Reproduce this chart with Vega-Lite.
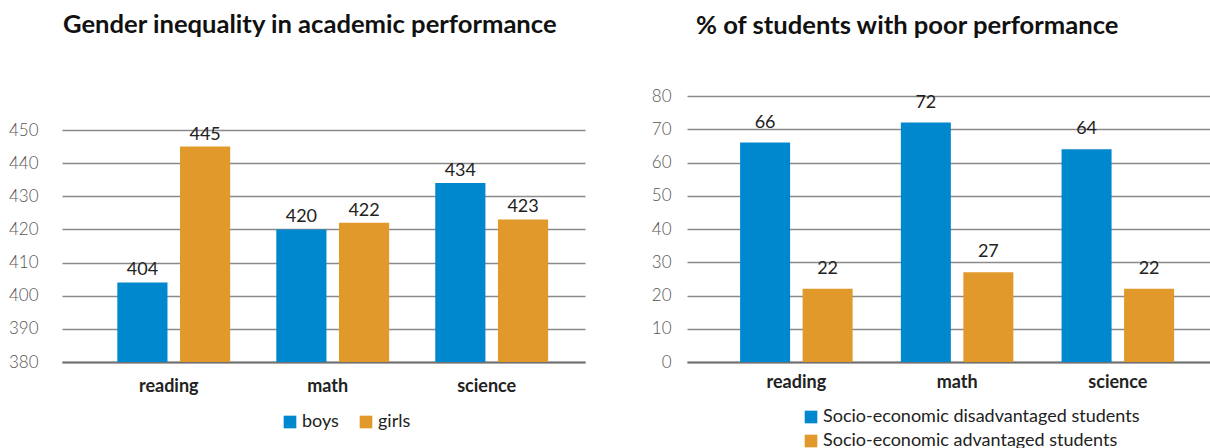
{
  "$schema": "https://vega.github.io/schema/vega-lite/v6.json",
  "padding": {"left": 8, "top": 13, "right": 0, "bottom": 0},
  "spacing": 66,
  "background": "white",
  "config": {
    "view": {"stroke": null},
    "font": "Lato",
    "title": {"font": "Lato", "fontSize": 25.6, "fontWeight": "bold", "color": "#111111", "anchor": "start", "baseline": "alphabetic", "frame": "group"},
    "axisY": {"domain": false, "ticks": false, "title": null, "labelFont": "Lato", "labelFontSize": 17, "labelFontWeight": 300, "labelColor": "#555555", "gridColor": "#8a8a8a", "gridWidth": 1.3},
    "axisX": {"ticks": false, "title": null, "labelAngle": 0, "labelFont": "Lato", "labelFontSize": 18, "labelFontWeight": "bold", "labelColor": "#222222", "domainColor": "#707070", "domainWidth": 2, "labelBaseline": "top"},
    "legend": {"labelFont": "Lato", "labelFontSize": 18, "labelColor": "#222222", "labelLimit": 500, "symbolType": "square", "symbolSize": 160, "symbolStrokeWidth": 0, "title": null, "labelOffset": 3}
  },
  "datasets": {
    "gender": [
      {"subject": "reading", "gender": "boys", "score": 404},
      {"subject": "reading", "gender": "girls", "score": 445},
      {"subject": "math", "gender": "boys", "score": 420},
      {"subject": "math", "gender": "girls", "score": 422},
      {"subject": "science", "gender": "boys", "score": 434},
      {"subject": "science", "gender": "girls", "score": 423}
    ],
    "poor": [
      {"subject": "reading", "group": "Socio-economic disadvantaged students", "pct": 66},
      {"subject": "reading", "group": "Socio-economic advantaged students", "pct": 22},
      {"subject": "math", "group": "Socio-economic disadvantaged students", "pct": 72},
      {"subject": "math", "group": "Socio-economic advantaged students", "pct": 27},
      {"subject": "science", "group": "Socio-economic disadvantaged students", "pct": 64},
      {"subject": "science", "group": "Socio-economic advantaged students", "pct": 22}
    ]
  },
  "hconcat": [
    {
      "width": 523,
      "height": 266,
      "data": {"name": "gender"},
      "title": {"text": "Gender inequality in academic performance", "dx": 1, "offset": 57},
      "encoding": {
        "x": {"field": "subject", "type": "nominal", "sort": ["reading", "math", "science"],
              "scale": {"paddingInner": 0.29, "paddingOuter": 0.29, "align": 0.6},
              "axis": {"labelOffset": -5, "labelPadding": 15}},
        "xOffset": {"field": "gender", "type": "nominal", "sort": ["boys", "girls"], "scale": {"paddingInner": 0.2, "paddingOuter": 0}},
        "y": {"field": "score", "type": "quantitative",
              "scale": {"domain": [380, 460.26], "nice": false, "zero": false},
              "axis": {"values": [380, 390, 400, 410, 420, 430, 440, 450], "labelPadding": 24}}
      },
      "layer": [
        {
          "mark": {"type": "bar"},
          "encoding": {
            "y2": {"datum": 380},
            "color": {"field": "gender", "type": "nominal",
                      "scale": {"domain": ["boys", "girls"], "range": ["#0088CE", "#E0992A"]},
                      "legend": {"orient": "none", "direction": "horizontal", "legendX": 219, "legendY": 317, "columnPadding": 18}}
          }
        },
        {
          "mark": {"type": "text", "baseline": "bottom", "dy": -3, "fontSize": 18, "color": "#222222", "font": "Lato"},
          "encoding": {"text": {"field": "score", "type": "quantitative"}}
        }
      ]
    },
    {
      "width": 524,
      "height": 266,
      "data": {"name": "poor"},
      "title": {"text": "% of students with poor performance", "dx": 9, "offset": 47},
      "encoding": {
        "x": {"field": "subject", "type": "nominal", "sort": ["reading", "math", "science"],
              "scale": {"paddingInner": 0.3, "paddingOuter": 0.28, "align": 0.59},
              "axis": {"labelPadding": 11}},
        "xOffset": {"field": "group", "type": "nominal", "sort": ["Socio-economic disadvantaged students", "Socio-economic advantaged students"], "scale": {"paddingInner": 0.2, "paddingOuter": 0}},
        "y": {"field": "pct", "type": "quantitative",
              "scale": {"domain": [0, 80], "nice": false},
              "axis": {"values": [0, 10, 20, 30, 40, 50, 60, 70, 80], "labelPadding": 16}}
      },
      "layer": [
        {
          "mark": {"type": "bar"},
          "encoding": {
            "color": {"field": "group", "type": "nominal",
                      "scale": {"domain": ["Socio-economic disadvantaged students", "Socio-economic advantaged students"], "range": ["#0088CE", "#E0992A"]},
                      "legend": {"orient": "none", "direction": "vertical", "legendX": 115, "legendY": 312, "rowPadding": 6}}
          }
        },
        {
          "mark": {"type": "text", "baseline": "bottom", "dy": -11, "fontSize": 18, "color": "#222222", "font": "Lato"},
          "encoding": {"text": {"field": "pct", "type": "quantitative"}}
        }
      ]
    }
  ],
  "resolve": {"scale": {"color": "independent", "x": "independent", "y": "independent", "xOffset": "independent"}}
}
